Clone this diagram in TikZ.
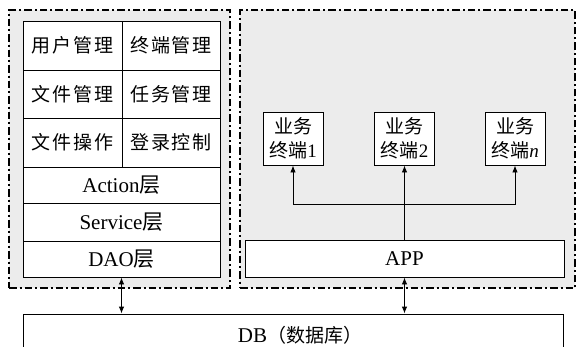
\documentclass[tikz,border=0pt]{standalone}
\usepackage{fontspec}
\setmainfont{Liberation Serif}
\newfontfamily\cjk{Noto Sans CJK SC}
\newfontfamily\cjksp[LetterSpace=10]{Noto Sans CJK SC}
\usetikzlibrary{arrows.meta}
\definecolor{panelgray}{HTML}{ECECEC}
\newcommand\zh[1]{{\cjk #1}}
\begin{document}
\begin{tikzpicture}[x=1pt,y=-1pt,
  dashbox/.style={draw, line width=2.1pt, fill=panelgray,
    dash pattern=on 7.5pt off 3pt on 2pt off 3pt, inner sep=0pt},
  cell/.style={draw, line width=0.9pt, fill=white, inner sep=0pt},
  cjkcell/.style={cell, font=\fontsize{19}{22}\cjksp},
  layer/.style={cell, font=\fontsize{21}{24}\selectfont},
  term/.style={cell, align=center, minimum width=60pt, minimum height=53pt,
    font=\fontsize{19}{24}\selectfont},
  conn/.style={line width=0.9pt},
  tip/.style={-{Latex[length=7pt,width=5.5pt]}},
  dtip/.style={{Latex[length=7pt,width=5.5pt]}-{Latex[length=7pt,width=5.5pt]}}
]
\useasboundingbox (0,0) rectangle (579,346);
% panels
\node[dashbox, minimum width=221pt, minimum height=278pt] (leftpanel) at (119.5,149) {};
\node[dashbox, minimum width=335pt, minimum height=278pt] (rightpanel) at (407.5,149) {};
% table
\node[cjkcell, minimum width=99pt, minimum height=49pt] (um) at (72.5,45.5) {用户管理};
\node[cjkcell, minimum width=98pt, minimum height=49pt] (tm) at (171,45.5) {终端管理};
\node[cjkcell, minimum width=99pt, minimum height=48pt] (fm) at (72.5,94) {文件管理};
\node[cjkcell, minimum width=98pt, minimum height=48pt] (rm) at (171,94) {任务管理};
\node[cjkcell, minimum width=99pt, minimum height=49pt] (fo) at (72.5,142.5) {文件操作};
\node[cjkcell, minimum width=98pt, minimum height=49pt] (lc) at (171,142.5) {登录控制};
\node[layer, minimum width=197pt, minimum height=36pt] (act) at (121.5,185) {Action\zh{层}};
\node[layer, minimum width=197pt, minimum height=38pt] (svc) at (121.5,222) {Service\zh{层}};
\node[layer, minimum width=197pt, minimum height=36pt] (dao) at (121.5,259) {DAO\zh{层}};
% right side
\node[layer, minimum width=319pt, minimum height=37pt] (app) at (404.5,258.5) {APP};
\node[term] (t1) at (293,138.5) {\zh{业务}\\\zh{终端}1};
\node[term] (t2) at (404.5,138.5) {\zh{业务}\\\zh{终端}2};
\node[term] (tn) at (515,138.5) {\zh{业务}\\\zh{终端}\textit{n}};
% database
\node[cell, minimum width=540pt, minimum height=42pt, font=\fontsize{21}{24}\selectfont] (db) at (293,335)
  {\hspace*{14pt}DB\fontsize{19}{24}\cjk（数据库）};
% connectors
\coordinate (junc) at (404.5,204);
\draw[conn,tip] (app.north) -- (t2.south);
\draw[conn,tip] (junc) -| (t1.south);
\draw[conn,tip] (junc) -| (tn.south);
\draw[conn,dtip] (dao.south) -- (dao.south |- db.north);
\draw[conn,dtip] (app.south) -- (app.south |- db.north);
\end{tikzpicture}
\end{document}
